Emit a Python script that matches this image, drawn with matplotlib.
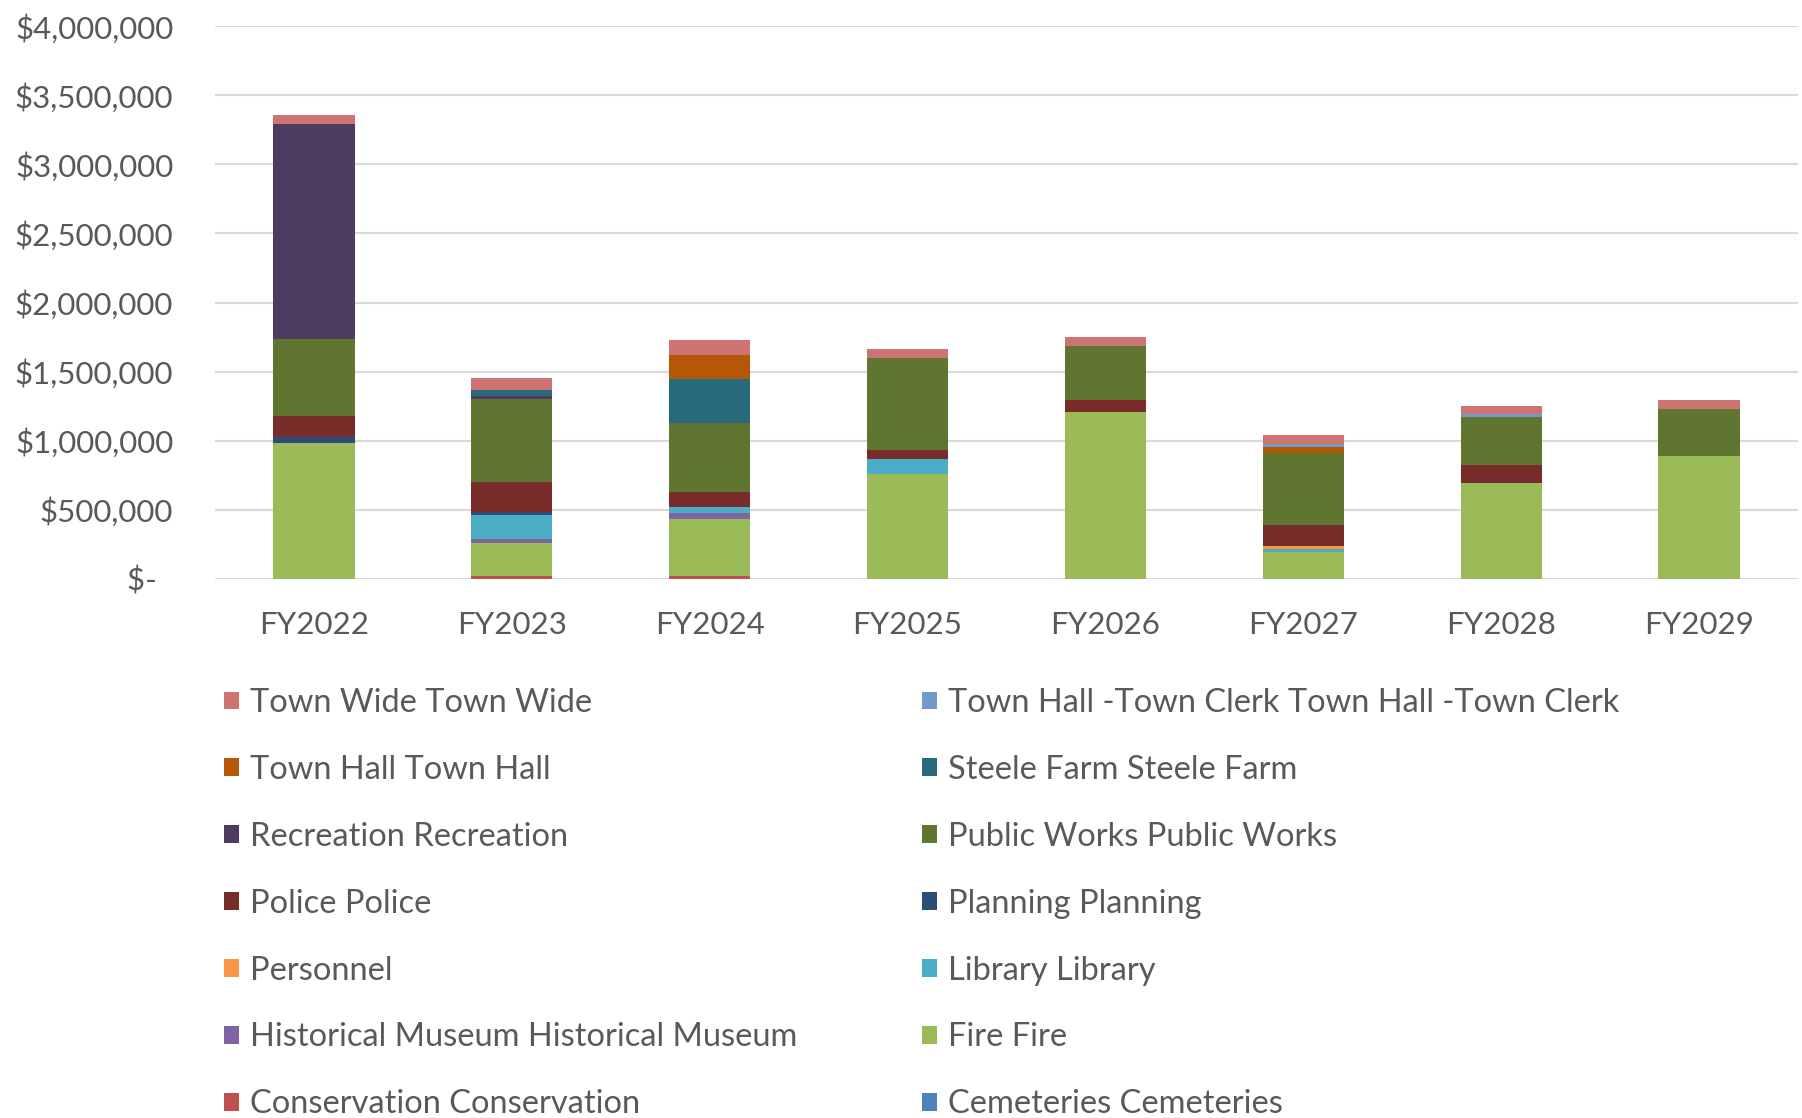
import matplotlib
matplotlib.use("Agg")
import matplotlib.pyplot as plt
from matplotlib.patches import Patch
from matplotlib.ticker import FuncFormatter
import numpy as np

years = ["FY2022", "FY2023", "FY2024", "FY2025", "FY2026", "FY2027", "FY2028", "FY2029"]

# stack order bottom -> top
categories = ["Cemeteries", "Conservation", "Fire", "Historical Museum", "Library",
              "Personnel", "Planning", "Police", "Public Works", "Recreation",
              "Steele Farm", "Town Hall", "Town Hall -Town Clerk", "Town Wide"]
labels = ["Cemeteries Cemeteries", "Conservation Conservation", "Fire Fire",
          "Historical Museum Historical Museum", "Library Library", "Personnel",
          "Planning Planning", "Police Police", "Public Works Public Works",
          "Recreation Recreation", "Steele Farm Steele Farm", "Town Hall Town Hall",
          "Town Hall -Town Clerk Town Hall -Town Clerk", "Town Wide Town Wide"]

cemeteries = [0, 0, 0, 0, 0, 0, 0, 0]
conservation = [0, 24000, 22000, 0, 0, 0, 0, 0]
fire = [985000, 240000, 412000, 760000, 1208000, 195000, 695000, 890000]
historical_museum = [0, 22000, 43000, 0, 0, 0, 0, 0]
library = [0, 174000, 43000, 109000, 0, 22000, 0, 0]
personnel = [0, 0, 0, 0, 0, 22000, 0, 0]
planning = [41000, 22000, 0, 0, 0, 0, 0, 0]
police = [154000, 217000, 109000, 65000, 87000, 152000, 130000, 0]
public_works = [557000, 600000, 499000, 666000, 391000, 521000, 347000, 340000]
recreation = [1556000, 22000, 0, 0, 0, 0, 0, 0]
steele_farm = [0, 43000, 318000, 0, 0, 0, 0, 0]
town_hall = [0, 0, 174000, 0, 0, 43000, 0, 0]
town_hall_clerk = [0, 0, 0, 0, 0, 22000, 22000, 0]
town_wide = [65000, 87000, 109000, 65000, 65000, 65000, 58000, 65000]

series = [cemeteries, conservation, fire, historical_museum, library, personnel,
          planning, police, public_works, recreation, steele_farm, town_hall,
          town_hall_clerk, town_wide]
colors = ["#4F81BD", "#C0504D", "#9BBB59", "#8064A2", "#4BACC6", "#F79646",
          "#2C4D75", "#772C2A", "#5F7530", "#4D3B62", "#276A7C", "#B65708",
          "#729ACA", "#CD7371"]

yticks = [0, 500000, 1000000, 1500000, 2000000, 2500000, 3000000, 3500000, 4000000]

TXT = "#595959"
FONT = "Lato"
FS = 22.5
LFS = 23.5

W, H = 1802, 1118
fig = plt.figure(figsize=(W / 100, H / 100), dpi=100)
ax = fig.add_axes([215 / W, 1 - 579 / H, (1798 - 215) / W, (579 - 26) / H])

x = np.arange(len(years))
bottom = np.zeros(len(years))
for vals, c in zip(series, colors):
    v = np.array(vals, dtype=float)
    ax.bar(x, v, width=0.41, bottom=bottom, color=c, linewidth=0, zorder=3)
    bottom += v

ax.set_xlim(-0.5, len(years) - 0.5)
ax.set_ylim(0, 4000000)
ax.set_yticks(yticks)
ax.yaxis.set_major_formatter(FuncFormatter(lambda v, p: "$-  " if v == 0 else "${:,.0f}".format(v)))
ax.set_xticks(x)
ax.set_xticklabels(years)
ax.grid(axis="y", color="#D9D9D9", linewidth=1.5, zorder=0)
ax.set_axisbelow(True)
for s in ax.spines.values():
    s.set_visible(False)
ax.tick_params(axis="both", length=0, colors=TXT, labelsize=FS)
ax.tick_params(axis="y", pad=30)
ax.tick_params(axis="x", pad=23)
for t in ax.get_xticklabels() + ax.get_yticklabels():
    t.set_fontfamily(FONT)
    t.set_color(TXT)

# legend: two columns, row-major in reverse stack order
rev = list(range(len(categories)))[::-1]
col1 = rev[0::2]
col2 = rev[1::2]
for col, x0 in ((col1, 224), (col2, 922)):
    handles = [Patch(facecolor=colors[i], edgecolor="none") for i in col]
    lbls = [labels[i] for i in col]
    leg = fig.legend(handles, lbls, loc="upper left",
                     bbox_to_anchor=(x0 / W, 1 - 688 / H), frameon=False,
                     prop={"family": FONT, "size": LFS}, labelcolor=TXT,
                     handlelength=0.46, handleheight=0.46, handletextpad=0.35,
                     labelspacing=1.13, borderpad=0, borderaxespad=0)

fig.savefig("out.png", dpi=100)
